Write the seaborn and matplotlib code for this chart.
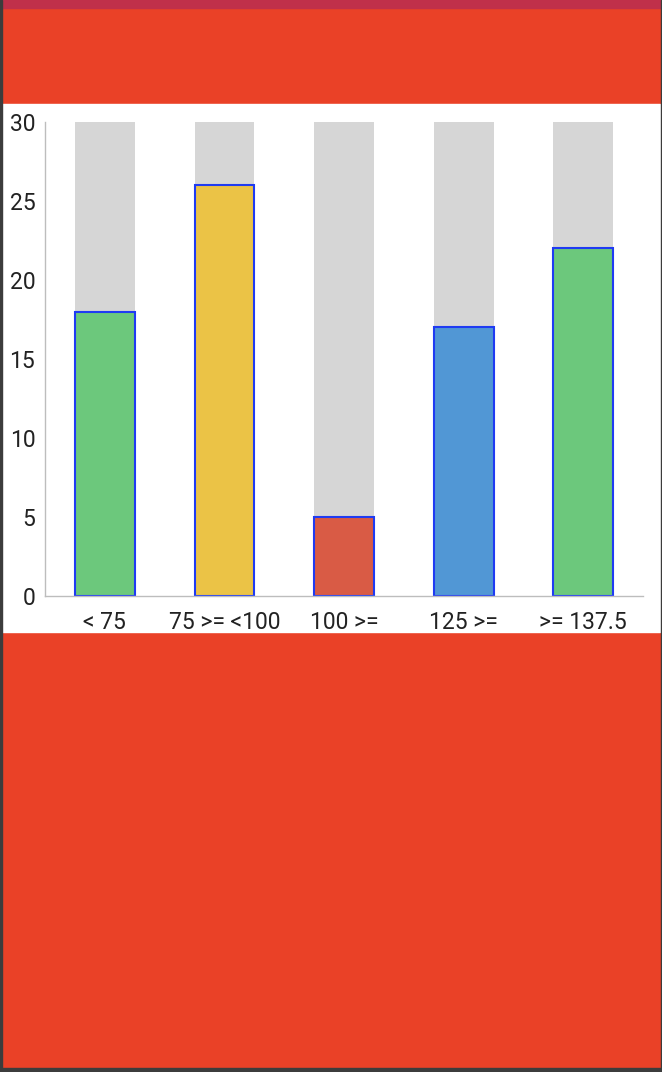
import matplotlib
matplotlib.use("Agg")
import matplotlib.pyplot as plt
from matplotlib.patches import Rectangle
import seaborn as sns
import pandas as pd

# data
categories = ["< 75", "75 >= <100", "100 >=", "125 >=", ">= 137.5"]
values = [18, 26, 5, 17, 22]
max_values = [30, 30, 30, 30, 30]
bar_colors = ["#6CC87C", "#EBC346", "#D95B45", "#5197D5", "#6CC87C"]
y_ticks = [0, 5, 10, 15, 20, 25, 30]

df = pd.DataFrame({"category": categories, "value": values, "max": max_values})

sns.set_style("white")
plt.rcParams["font.family"] = ["Roboto", "DejaVu Sans"]

W, H = 662, 1072
fig = plt.figure(figsize=(W / 100, H / 100), dpi=100, facecolor="#EA4127")

# page background pieces (app screenshot look), kept behind the axes
fig.patches.append(Rectangle((0, 1 - 8 / H), 1, 8 / H, transform=fig.transFigure,
                             color="#C0304A", zorder=-2))
fig.patches.append(Rectangle((2 / W, (H - 632) / H), (W - 4) / W, 528 / H,
                             transform=fig.transFigure, color="white", zorder=-2))
fig.patches.append(Rectangle((0, 0), 2 / W, 1, transform=fig.transFigure,
                             color="#3C3C3C", zorder=-1))
fig.patches.append(Rectangle((1 - 1.5 / W, 0), 1.5 / W, 1, transform=fig.transFigure,
                             color="#3C3C3C", zorder=-1))
fig.patches.append(Rectangle((0, 0), 1, 4 / H, transform=fig.transFigure,
                             color="#3C3C3C", zorder=-1))

ax = fig.add_axes([45 / W, (H - 596) / H, (643 - 45) / W, (596 - 122) / H])
ax.set_facecolor("none")
ax.set_zorder(1)

# grey track behind each bar
sns.barplot(data=df, x="category", y="max", color="#D6D6D6", width=0.5,
            saturation=1, linewidth=0, ax=ax)
# actual values
sns.barplot(data=df, x="category", y="value", hue="category", palette=bar_colors,
            width=0.5, saturation=1, edgecolor="#1F3BF2", linewidth=1.5,
            legend=False, ax=ax)

ax.set_xlim(-0.5, 4.5)
ax.set_ylim(0, 30)
ax.set_yticks(y_ticks)
ax.set_xlabel("")
ax.set_ylabel("")
ax.tick_params(axis="both", length=0, labelsize=16.5, colors="#222222")
ax.tick_params(axis="y", pad=7)
ax.tick_params(axis="x", pad=10.5)
for side in ["top", "right"]:
    ax.spines[side].set_visible(False)
for side in ["left", "bottom"]:
    ax.spines[side].set_color("#BDBDBD")
    ax.spines[side].set_linewidth(1)

fig.savefig("out.png", dpi=100, facecolor=fig.get_facecolor())
